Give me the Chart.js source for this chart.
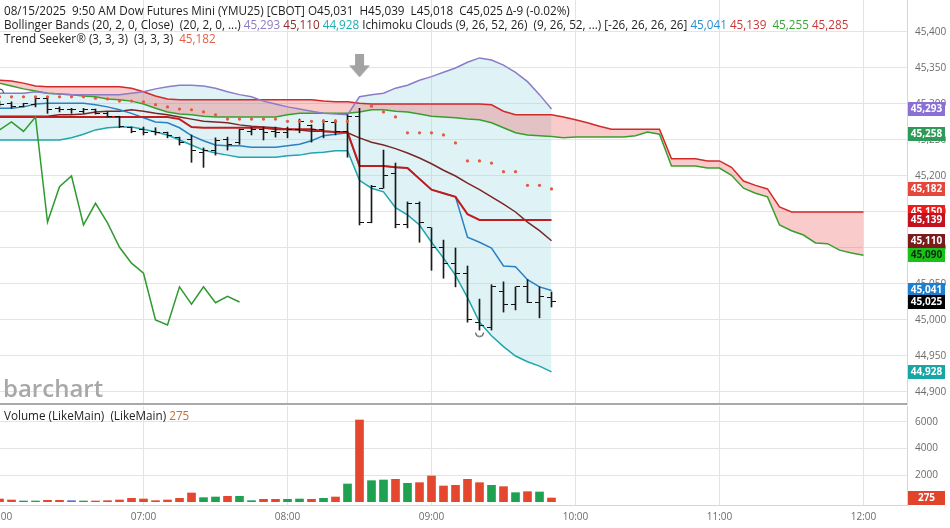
<!DOCTYPE html>
<html><head><meta charset="utf-8">
<script src="https://cdn.jsdelivr.net/npm/chart.js@4.4.1/dist/chart.umd.min.js"></script>
<style>
html,body{margin:0;padding:0;background:#fff;width:950px;height:528px;overflow:hidden;}
#wrap{position:relative;width:950px;height:528px;}
canvas{position:absolute;left:0;}
#cPrice{top:0}
#cVol{top:406px}
.t{position:absolute;left:4px;font-family:'Open Sans';font-size:11.7px;line-height:14px;color:#1e1e1e;white-space:pre;}
.wm{position:absolute;left:3px;top:376px;font-family:'Open Sans';font-weight:600;font-size:24px;line-height:24px;color:#a8a8a8;}
</style></head>
<body><div id="wrap">
<canvas id="cPrice" width="950" height="406"></canvas>
<canvas id="cVol" width="950" height="122"></canvas>
<div class="wm">barchart</div>
<div class="t" style="top:3px">08/15/2025  9:50 AM Dow Futures Mini (YMU25) [CBOT] O45,031  H45,039  L45,018  C45,025 Δ-9 (-0.02%)</div>
<div class="t" style="top:17px">Bollinger Bands (20, 2, 0, Close)  (20, 2, 0, ...) <span style="color:#8e7cc3">45,293</span> <span style="color:#8b2e2e">45,110</span> <span style="color:#19b0b0">44,928</span> Ichimoku Clouds (9, 26, 52, 26)  (9, 26, 52, ...) [-26, 26, 26, 26] <span style="color:#2a8fd0">45,041</span> <span style="color:#c83737">45,139</span>  <span style="color:#3aa63a">45,255</span> <span style="color:#c83737">45,285</span></div>
<div class="t" style="top:31px">Trend Seeker® (3, 3, 3)  (3, 3, 3)  <span style="color:#e06048">45,182</span></div>
<div class="t" style="top:408px">Volume (LikeMain)  (LikeMain) <span style="color:#c86a3e">275</span></div>
</div>
<script>
// ---------- DATA ----------
const barTimes = ["06:00","06:05","06:10","06:15","06:20","06:25","06:30","06:35","06:40","06:45","06:50","06:55",
"07:00","07:05","07:10","07:15","07:20","07:25","07:30","07:35","07:40","07:45","07:50","07:55",
"08:00","08:05","08:10","08:15","08:20","08:25","08:30","08:35","08:40","08:45","08:50","08:55",
"09:00","09:05","09:10","09:15","09:20","09:25","09:30","09:35","09:40","09:45","09:50"];
const futureTimes = ["09:55","10:00","10:05","10:10","10:15","10:20","10:25","10:30","10:35","10:40","10:45","10:50","10:55",
"11:00","11:05","11:10","11:15","11:20","11:25","11:30","11:35","11:40","11:45","11:50","11:55","12:00"];
const timeTicks = ["06:00","07:00","08:00","09:00","10:00","11:00","12:00"];

const openP  = [45300,45301,45297,45299,45307,45294,45292,45289,45292,45287,45282,45268,45264,45262,45260,45254,45250,45232,45236,45250,45247,45262,45265,45262,45260,45265,45270,45264,45274,45262,45282,45135,45183,45204,45132,45162,45128,45101,45079,45065,44997,44989,45039,45022,45046,45024,45031];
const highP  = [45304,45303,45301,45310,45310,45296,45294,45294,45293,45289,45283,45268,45268,45267,45261,45254,45257,45239,45253,45254,45265,45267,45268,45268,45268,45279,45271,45278,45278,45285,45294,45187,45236,45218,45164,45164,45128,45111,45100,45075,45029,45049,45053,45046,45056,45046,45039];
const lowP   = [45297,45294,45296,45296,45287,45289,45287,45287,45286,45282,45267,45260,45257,45257,45253,45243,45219,45212,45229,45236,45244,45257,45250,45254,45253,45260,45247,45253,45257,45226,45132,45135,45183,45128,45128,45108,45069,45058,45046,44997,44986,44986,45011,45014,45024,45003,45018];
const closeP = [45299,45297,45300,45307,45292,45292,45292,45293,45287,45283,45269,45262,45261,45260,45256,45246,45236,45236,45249,45244,45264,45265,45260,45261,45265,45275,45264,45275,45262,45282,45136,45185,45200,45132,45162,45135,45101,45079,45065,45000,44993,45046,45022,45046,45024,45033,45025];
const volume = [200,125,50,50,100,100,75,50,50,75,125,250,200,75,125,250,650,300,350,400,400,75,175,175,175,200,175,250,350,1325,6125,1575,1625,1675,1375,1425,1925,1175,1225,1675,1425,1225,1125,675,750,725,275];

const bbUpper  = [45315,45315,45315,45317,45315,45314,45313,45313,45313,45313,45313,45315,45317,45321,45324,45326,45326,45325,45322,45317,45313,45310,45304,45300,45296,45293,45290,45287,45286,45285,45310,45313,45315,45322,45326,45333,45338,45344,45350,45358,45364,45361,45354,45344,45331,45313,45293];
const bbMiddle = [45283,45283,45283,45283,45283,45285,45285,45286,45289,45290,45290,45292,45290,45287,45285,45282,45279,45276,45275,45274,45271,45269,45268,45267,45265,45264,45262,45262,45261,45260,45253,45247,45243,45238,45232,45225,45217,45208,45200,45190,45181,45171,45161,45150,45136,45124,45110];
const bbLower  = [45250,45250,45250,45250,45250,45250,45253,45258,45264,45267,45268,45268,45265,45261,45257,45250,45243,45236,45232,45229,45226,45226,45226,45226,45228,45229,45232,45233,45235,45235,45194,45183,45178,45156,45146,45132,45108,45086,45062,45031,44997,44978,44963,44950,44942,44936,44928];

const tenkan = [45294,45294,45296,45300,45301,45301,45301,45301,45299,45296,45292,45287,45281,45275,45274,45267,45256,45249,45243,45242,45242,45240,45240,45240,45242,45244,45249,45256,45258,45260,45214,45214,45214,45212,45211,45196,45181,45176,45171,45115,45108,45100,45075,45074,45056,45046,45041];
const kijun  = [45282,45282,45282,45282,45282,45282,45282,45282,45282,45282,45282,45282,45282,45282,45282,45279,45268,45267,45267,45267,45267,45267,45267,45265,45265,45265,45265,45262,45261,45261,45214,45214,45214,45212,45211,45196,45181,45176,45171,45147,45139,45139,45139,45139,45139,45139,45139];
const spanA  = [45329,45325,45321,45318,45315,45314,45313,45311,45310,45307,45306,45304,45300,45294,45289,45286,45285,45283,45282,45282,45282,45282,45282,45282,
45285,45287,45287,45287,45287,45287,45289,45292,45292,45290,45289,45286,45283,45282,45281,45279,45278,45274,45267,45260,45257,45256,45255,
45253,45254,45254,45254,45254,45254,45256,45261,45258,45214,45214,45214,45211,45211,45201,45183,45176,45171,45132,45124,45118,45107,45106,45097,45093,45090];
const spanB  = [45333,45332,45329,45325,45324,45324,45324,45324,45324,45324,45324,45322,45317,45311,45307,
45306,45306,45306,45306,45306,45306,45306,45306,45306,45306,45306,45306,45304,45303,45303,45301,
45300,45300,45300,45300,45300,45300,45300,45300,45300,45300,45299,45290,45285,45285,45285,45285,45282,45278,45274,45269,
45265,45265,45265,45265,45265,45224,45224,45224,45221,45221,45212,45193,45187,45182,45157,45150,45150,45150,45150,45150,45150,45150];
const trendSeeker = [45310,45310,45310,45310,45310,45310,45310,45310,45308,45307,45304,45304,45303,45299,45296,45293,45292,45289,45285,
45279,45279,45279,45279,45279,45276,45276,45276,45276,45276,45276,null,45297,45289,45282,45260,45260,45260,45257,45246,45221,45221,45218,45206,45206,45187,45187,45182];
const laggingShift = 26;

const swingHighs = [{time:"06:00", price:45319}];
const swingLows  = [{time:"09:20", price:44979}];
const eventMarks = [{time:"08:30", price:45353}];

const priceTicks  = [44900,44950,45000,45050,45100,45150,45200,45250,45300,45350,45400];
const volumeTicks = [2000,4000,6000];
const axisMarkerValues = [45293,45258,45182,45150,45139,45110,45090,45041,45025,44928];

// ---------- STYLE / LAYOUT ----------
const axisMarkerStyle = [
  ['#8a6fd4','#fff'],['#2e9a57','#fff'],['#e5473a','#fff'],['#ee1b1b','#fff'],['#c1121f','#fff'],
  ['#7a1c1c','#fff'],['#19c219','#0b2a0b'],['#1d7fcf','#fff'],['#000000','#fff'],['#16a6a6','#fff']];
const X_MIN = 0.2083, X_MAX = 378.125;
const P_MIN = 44883.33, P_MAX = 45444.44;
const V_MIN = -250, V_MAX = 7175;
const FONT = "'Open Sans'";

const toMin = s => { const [h,m] = s.split(':').map(Number); return (h-6)*60 + m; };
const fmt = v => Number(v).toLocaleString('en-US');
const allTimes = barTimes.concat(futureTimes);
const xs = allTimes.map(toMin);
const series = arr => arr.map((v,i) => ({x: xs[i], y: v}));

function tickImg(left){ const c=document.createElement('canvas'); c.width=9; c.height=1; const g=c.getContext('2d'); g.fillStyle='#111'; if(left) g.fillRect(0,0,4,1); else g.fillRect(5,0,4,1); return c; }
function arrowImg(){ const c=document.createElement('canvas'); c.width=21; c.height=23; const g=c.getContext('2d'); g.fillStyle='#a3a3a3'; g.fillRect(6,0,9,12); g.beginPath(); g.moveTo(0,11); g.lineTo(21,11); g.lineTo(10.5,23); g.closePath(); g.fill(); return c; }
function arcImg(up){ const c=document.createElement('canvas'); c.width=11; c.height=7; const g=c.getContext('2d'); g.strokeStyle='#222'; g.lineWidth=1; g.beginPath(); if(up) g.arc(5.5,6,4,Math.PI,2*Math.PI); else g.arc(5.5,1,4,0,Math.PI); g.stroke(); return c; }

const line = (label, data, color, width, extra) => Object.assign({type:'line', label, data, borderColor:color, borderWidth:width, pointRadius:0, tension:0, fill:false}, extra||{});

const boxPlugin = {
  id:'boxes',
  afterDraw(chart, args, opts){
    const ctx = chart.ctx, ys = chart.scales.y, L = chart.chartArea.right + 1;
    ctx.save();
    opts.values.forEach((v,i) => {
      const y = Math.round(ys.getPixelForValue(v));
      ctx.fillStyle = opts.styles[i][0]; ctx.fillRect(L, y-7, 37, 14);
      ctx.fillStyle = opts.styles[i][1]; ctx.font = "bold 10px " + FONT;
      ctx.textAlign='center'; ctx.textBaseline='middle';
      ctx.fillText(fmt(v), L + 18.5, y + 0.5);
    });
    ctx.restore();
  }
};

const priceDatasets = [
  {type:'line', label:'event', data: eventMarks.map(e=>({x:toMin(e.time), y:e.price})), showLine:false, pointStyle: arrowImg(), pointRadius:8},
  {type:'line', label:'swingHi', data: swingHighs.map(e=>({x:toMin(e.time), y:e.price})), showLine:false, pointStyle: arcImg(true), pointRadius:6},
  {type:'line', label:'swingLo', data: swingLows.map(e=>({x:toMin(e.time), y:e.price})), showLine:false, pointStyle: arcImg(false), pointRadius:6},
  {type:'line', label:'Trend Seeker', data: series(trendSeeker), showLine:false, pointRadius:1.6, pointBackgroundColor:'#e4583f', pointBorderWidth:0},
  {type:'line', label:'open', data: series(openP), showLine:false, pointStyle: tickImg(true), pointRadius:6},
  {type:'line', label:'close', data: series(closeP), showLine:false, pointStyle: tickImg(false), pointRadius:6},
  {type:'bar', label:'range', data: lowP.map((l,i)=>({x: xs[i], y:[l, highP[i]]})), backgroundColor:'#1a1a1a', barThickness:1, borderWidth:0},
  line('Lagging', closeP.slice(laggingShift).map((c,i)=>({x: xs[i], y:c})), '#2f9a2f', 1.5),
  line('Kijun', series(kijun), '#c21d1d', 2),
  line('Tenkan', series(tenkan), '#2a80c4', 1.5),
  line('BB mid', series(bbMiddle), '#7a2626', 1.5),
  line('BB upper', series(bbUpper), '#8a7cc8', 1.5),
  line('Span A', series(spanA), '#3a9e2e', 1.5),
  line('Span B', series(spanB), '#d02a2a', 1.5, {fill:{target:12, above:'rgba(235,70,70,0.28)', below:'rgba(60,180,60,0.28)'}}),
  line('BB lower', series(bbLower), '#1fa6ae', 1.5, {fill:{target:11, above:'rgba(150,215,225,0.30)', below:'rgba(150,215,225,0.30)'}})
];

new Chart(document.getElementById('cPrice'), {
  type:'line',
  data:{datasets: priceDatasets},
  plugins:[boxPlugin],
  options:{
    responsive:false, animation:false, events:[],
    layout:{padding:0, autoPadding:false},
    plugins:{legend:{display:false}, tooltip:{enabled:false}, filler:{drawTime:'beforeDatasetsDraw'},
      boxes:{values: axisMarkerValues, styles: axisMarkerStyle}},
    scales:{
      x:{type:'linear', min:X_MIN, max:X_MAX, offset:false,
        afterBuildTicks: s => { s.ticks = timeTicks.map(t => ({value: toMin(t)})); },
        afterFit: s => { s.height = 2; s.paddingLeft = 0; s.paddingRight = 0; },
        grid:{color:'#e4e4e4', drawTicks:false, offset:false},
        border:{display:true, color:'#a9a9a9', width:2},
        ticks:{display:false}},
      y:{type:'linear', position:'right', min:P_MIN, max:P_MAX,
        afterBuildTicks: s => { s.ticks = priceTicks.map(v => ({value:v})); },
        afterFit: s => { s.width = 43; s.paddingTop = 0; s.paddingBottom = 0; },
        grid:{color:'#e4e4e4', drawTicks:false},
        border:{display:true, color:'#d6d6d6', width:1},
        ticks:{padding:8, color:'#6b6b6b', font:{family:FONT, size:10}, callback: v => fmt(v)}}
    }
  }
});

const volColor = i => closeP[i] > openP[i] ? '#1fa152' : (closeP[i] < openP[i] ? '#e4472e' : '#5a6fd0');
new Chart(document.getElementById('cVol'), {
  type:'bar',
  data:{datasets:[{label:'Volume', data: series(volume), backgroundColor: ctx => volColor(ctx.dataIndex), barThickness:8, borderWidth:0}]},
  plugins:[boxPlugin],
  options:{
    responsive:false, animation:false, events:[],
    layout:{padding:0, autoPadding:false},
    plugins:{legend:{display:false}, tooltip:{enabled:false},
      boxes:{values:[volume[volume.length-1]], styles:[['#e2432b','#fff']]}},
    scales:{
      x:{type:'linear', min:X_MIN, max:X_MAX, offset:false,
        afterBuildTicks: s => { s.ticks = timeTicks.map(t => ({value: toMin(t)})); },
        afterFit: s => { s.height = 23; s.paddingLeft = 0; s.paddingRight = 0; },
        grid:{color:'#e4e4e4', drawTicks:false, offset:false},
        border:{display:true, color:'#d6d6d6', width:1},
        ticks:{padding:6, color:'#6b6b6b', font:{family:FONT, size:10}, maxRotation:0, autoSkip:false,
          callback: v => { const h = 6 + Math.floor(v/60), m = v % 60; return String(h).padStart(2,'0') + ':' + String(m).padStart(2,'0'); }}},
      y:{type:'linear', position:'right', min:V_MIN, max:V_MAX,
        afterBuildTicks: s => { s.ticks = volumeTicks.map(v => ({value:v})); },
        afterFit: s => { s.width = 43; s.paddingTop = 0; s.paddingBottom = 0; },
        grid:{color:'#e4e4e4', drawTicks:false},
        border:{display:true, color:'#d6d6d6', width:1},
        ticks:{padding:8, color:'#6b6b6b', font:{family:FONT, size:10}, callback: v => String(v)}}
    }
  }
});
</script>
</body></html>
